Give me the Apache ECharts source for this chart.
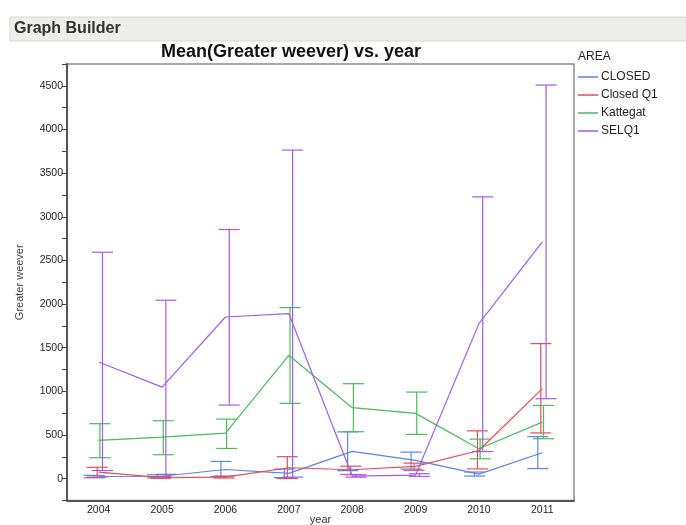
<!DOCTYPE html>
<html>
<head>
<meta charset="utf-8">
<script src="https://cdn.jsdelivr.net/npm/echarts@6/dist/echarts.min.js"></script>
<style>
  html, body { margin: 0; padding: 0; background: #ffffff; }
  #chart { width: 686px; height: 525px; }
</style>
</head>
<body>
<div id="chart"></div>
<script>
// Survey years on the category axis
const years = ['2004', '2005', '2006', '2007', '2008', '2009', '2010', '2011'];

// Mean catch of greater weever per area, with the lower/upper error bar ends
const closedMean = [25, 28, 105, 60, 312, 209, 52, 297];
const closedLow  = [10, 10, 25, 12, 92, 110, 30, 116];
const closedHigh = [38, 45, 197, 110, 536, 304, 76, 482];

const closedQ1Mean = [75, 12, 18, 125, 102, 140, 323, 1031];
const closedQ1Low  = [18, 5, 8, 2, 48, 96, 112, 524];
const closedQ1High = [130, 25, 30, 252, 143, 178, 548, 1547];

const kattegatMean = [438, 476, 522, 1413, 813, 748, 343, 648];
const kattegatLow  = [240, 274, 346, 862, 538, 507, 228, 458];
const kattegatHigh = [630, 664, 682, 1960, 1088, 992, 453, 839];

const selq1Mean = [1336, 1049, 1852, 1891, 30, 40, 1776, 2712];
const selq1Low  = [94, 50, 843, 18, 17, 25, 310, 916];
const selq1High = [2594, 2044, 2854, 3764, 45, 56, 3228, 4509];

// Y axis ticks every 250, labels every 500
const yMin = -250, yMax = 4750, yStep = 250;

const areas = [
  { name: 'CLOSED',    color: '#5a85de', mean: closedMean,   low: closedLow,   high: closedHigh,   dx: -4.5 },
  { name: 'Closed Q1', color: '#df4f5c', mean: closedQ1Mean, low: closedQ1Low, high: closedQ1High, dx: -1.5 },
  { name: 'Kattegat',  color: '#4fb85c', mean: kattegatMean, low: kattegatLow, high: kattegatHigh, dx: 1.2 },
  { name: 'SELQ1',     color: '#a25de6', mean: selq1Mean,    low: selq1Low,    high: selq1High,    dx: 3.8 }
];

const FONT = '"Liberation Sans", Arial, Helvetica, sans-serif';

// Error bar with caps, shifted a few pixels so groups do not overlap
function errorBar(dx, color) {
  return function (params, api) {
    const i = api.value(0);
    const lo = api.coord([i, api.value(1)]);
    const hi = api.coord([i, api.value(2)]);
    const x = lo[0] + dx;
    const hw = 10.5;
    const st = { stroke: color, lineWidth: 1.2, fill: null };
    return {
      type: 'group',
      children: [
        { type: 'line', shape: { x1: x, y1: hi[1], x2: x, y2: lo[1] }, style: st },
        { type: 'line', shape: { x1: x - hw, y1: hi[1], x2: x + hw, y2: hi[1] }, style: st },
        { type: 'line', shape: { x1: x - hw, y1: lo[1], x2: x + hw, y2: lo[1] }, style: st }
      ]
    };
  };
}

const series = [];
areas.forEach(function (a) {
  series.push({
    name: a.name,
    type: 'line',
    data: a.mean,
    symbol: 'none',
    lineStyle: { color: a.color, width: 1.2 },
    itemStyle: { color: a.color },
    z: 3
  });
});
areas.forEach(function (a) {
  series.push({
    name: a.name,
    type: 'custom',
    renderItem: errorBar(a.dx, a.color),
    data: years.map(function (y, i) { return [i, a.low[i], a.high[i]]; }),
    encode: { x: 0, y: [1, 2] },
    z: 2
  });
});

const chart = echarts.init(document.getElementById('chart'), null, { renderer: 'canvas' });
chart.setOption({
  backgroundColor: '#ffffff',
  animation: false,
  textStyle: { fontFamily: FONT },
  grid: {
    left: 67, right: 112, top: 64, bottom: 24.5,
    containLabel: false,
    outerBoundsMode: 'none',
    show: true, borderColor: '#8c8c8c', borderWidth: 1.5
  },
  graphic: [
    {
      type: 'rect',
      shape: { x: 10, y: 17, width: 680, height: 24 },
      style: { fill: '#ededeb', stroke: '#d6d6d4', lineWidth: 1 }
    },
    {
      type: 'text',
      x: 14, y: 29,
      style: {
        text: 'Graph Builder', fill: '#333333',
        font: 'bold 16px ' + FONT, textVerticalAlign: 'middle'
      }
    },
    {
      type: 'text',
      x: 291, y: 52,
      style: {
        text: 'Mean(Greater weever) vs. year', fill: '#111111',
        font: 'bold 18px ' + FONT, textAlign: 'center', textVerticalAlign: 'middle'
      }
    },
    {
      type: 'text',
      x: 578, y: 57,
      style: {
        text: 'AREA', fill: '#222222',
        font: '12px ' + FONT, textVerticalAlign: 'middle'
      }
    }
  ],
  legend: {
    orient: 'vertical',
    left: 578, top: 71,
    padding: 0,
    itemGap: 6,
    itemWidth: 20, itemHeight: 1.5,
    icon: 'rect',
    textStyle: { fontSize: 12, color: '#222222', fontFamily: FONT, padding: [0, 0, 0, -2] },
    data: areas.map(function (a) { return { name: a.name, itemStyle: { color: a.color } }; })
  },
  xAxis: {
    type: 'category',
    data: years,
    boundaryGap: true,
    name: 'year',
    nameLocation: 'middle',
    nameGap: 14,
    nameMoveOverlap: false,
    nameTextStyle: { fontSize: 11, color: '#333333', verticalAlign: 'top' },
    axisLine: { onZero: false, lineStyle: { color: '#555555', width: 2 } },
    axisTick: { show: false },
    axisLabel: { fontSize: 10.5, color: '#222222', margin: 4 },
    splitLine: { show: false }
  },
  yAxis: {
    type: 'value',
    min: yMin, max: yMax, interval: yStep,
    name: 'Greater weever',
    nameLocation: 'middle',
    nameGap: 42,
    nameTextStyle: { fontSize: 11, color: '#444444' },
    axisLine: { show: true, onZero: false, lineStyle: { color: '#555555', width: 2 } },
    axisTick: { show: true, length: 5, lineStyle: { color: '#444444', width: 1 } },
    axisLabel: {
      fontSize: 10.5, color: '#222222', margin: 4,
      formatter: function (v) {
        return (v % 500 === 0 && v >= 0 && v <= 4500) ? String(v) : '';
      }
    },
    splitLine: { show: false }
  },
  series: series
});
</script>
</body>
</html>
